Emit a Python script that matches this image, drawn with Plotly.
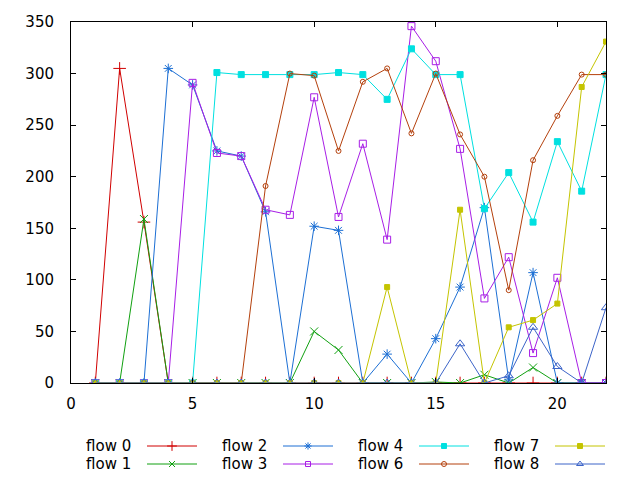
import plotly.graph_objects as go

x = list(range(1, 23))
flow0 = [0, 305, 156, 0, 0, 0, 0, 0, 0, 0, 0, 0, 0, 0, 0, 0, 0, 0, 0, 0, 0, 0]
flow1 = [0, 0, 159, 0, 0, 0, 0, 0, 0, 50, 32, 0, 0, 0, 1, 0, 8, 0, 15, 0, 0, 0]
flow2 = [0, 0, 0, 305, 289, 225, 220, 166, 0, 152, 148, 0, 28, 0, 43, 93, 170, 3, 107, 0, 0, 0]
flow3 = [0, 0, 0, 0, 291, 223, 220, 168, 163, 277, 161, 232, 139, 346, 312, 227, 82, 122, 29, 102, 0, 0]
flow4 = [0, 0, 0, 0, 0, 301, 299, 299, 299, 299, 301, 299, 275, 324, 299, 299, 169, 204, 156, 234, 186, 299]
flow6 = [0, 0, 0, 0, 0, 0, 0, 191, 300, 298, 225, 292, 305, 242, 300, 241, 200, 90, 216, 259, 299, 299]
flow7 = [0, 0, 0, 0, 0, 0, 0, 0, 0, 0, 0, 0, 93, 0, 0, 168, 0, 54, 61, 77, 287, 331]
flow8 = [0, 0, 0, 0, 0, 0, 0, 0, 0, 0, 0, 0, 0, 0, 0, 38, 0, 7, 54, 16, 0, 73]

x_ticks = [0, 5, 10, 15, 20]
y_ticks = [0, 50, 100, 150, 200, 250, 300, 350]

names = ["flow 0", "flow 1", "flow 2", "flow 3", "flow 4", "flow 6", "flow 7", "flow 8"]
series = [flow0, flow1, flow2, flow3, flow4, flow6, flow7, flow8]
colors = ["#d00000", "#10a010", "#1c6fd4", "#a81ee6", "#00e0e0", "#b4400c", "#c4c400", "#3c64c8"]
symbols = ["cross-thin-open", "x-thin-open", "asterisk-open", "square-open", "square",
           "circle-open", "square", "triangle-up-open"]
sizes = [9, 8, 8, 7, 6, 5, 5, 8]

# page body has an 8px margin: build in window pixels, figure is offset by 8
OFF = 8
W, H = 640 - 2 * OFF, 480 - 2 * OFF
L, R, T, B = 71, 606, 22, 383          # plot box in window pixels
FONT = "DejaVu Sans"
FS = 15

fig = go.Figure()
for n, s, c, sym, sz in zip(names, series, colors, symbols, sizes):
    fig.add_trace(go.Scatter(
        x=x, y=s, mode="lines+markers", name=n, showlegend=False,
        line=dict(color=c, width=1),
        marker=dict(symbol=sym, size=sz, color=c, line=dict(color=c, width=1)),
        xaxis="x", yaxis="y"))

# gnuplot-style key: text on the left, sample on the right (window pixel coords on aux axes)
annotations = []
for i, (n, c, sym, sz) in enumerate(zip(names, colors, symbols, sizes)):
    col, row = i // 2, i % 2
    ly = 446 + 18 * row
    mx = 172 + 136 * col
    annotations.append(dict(x=mx - 39, y=ly, xref="x2", yref="y2", text=n, showarrow=False,
                            xanchor="right", yanchor="middle", xshift=0,
                            font=dict(family=FONT, size=FS, color="#000000")))
    fig.add_trace(go.Scatter(x=[mx - 25, mx + 25], y=[ly, ly], mode="lines",
                             line=dict(color=c, width=1), showlegend=False,
                             xaxis="x2", yaxis="y2", hoverinfo="skip"))
    fig.add_trace(go.Scatter(x=[mx], y=[ly], mode="markers",
                             marker=dict(symbol=sym, size=max(sz - 2, 5), color=c,
                                         line=dict(color=c, width=1)),
                             showlegend=False, xaxis="x2", yaxis="y2", hoverinfo="skip"))

axis_common = dict(showgrid=False, zeroline=False, showline=True, linecolor="black",
                   linewidth=1, mirror="ticks", ticks="inside", ticklen=5,
                   tickcolor="black", tickwidth=1, automargin=False,
                   tickfont=dict(family=FONT, size=FS, color="#000000"))

fig.update_layout(
    width=W, height=H,
    margin=dict(l=0, r=0, t=0, b=0, autoexpand=False),
    paper_bgcolor="white", plot_bgcolor="white",
    showlegend=False,
    annotations=annotations,
    xaxis=dict(domain=[(L - OFF) / W, (R - OFF) / W], range=[0, 22], tickvals=x_ticks,
               anchor="y", ticklabelstandoff=7, **axis_common),
    yaxis=dict(domain=[1 - (B - OFF) / H, 1 - (T - OFF) / H], range=[0, 350],
               tickvals=y_ticks, anchor="x", ticklabelstandoff=13, **axis_common),
    xaxis2=dict(domain=[0, 1], range=[OFF, OFF + W], visible=False, anchor="y2",
                automargin=False),
    yaxis2=dict(domain=[0, (OFF + H - 392) / H], range=[OFF + H, 392], visible=False,
                anchor="x2", automargin=False),
)

fig.write_html("out.html")
